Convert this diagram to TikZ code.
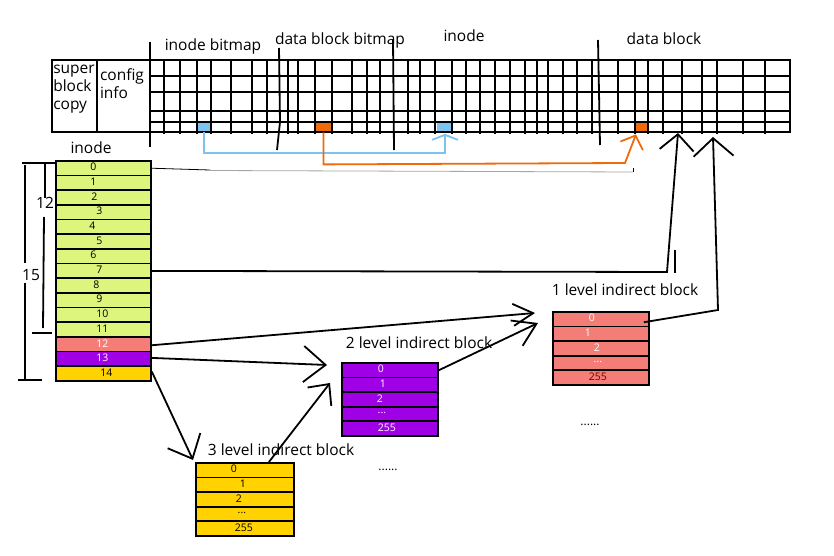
\documentclass[tikz,border=0pt]{standalone}
\usepackage{fontspec}
\setmainfont{Open Sans}
\usetikzlibrary{arrows.meta,calc}
\definecolor{igreen}{RGB}{221,245,124}
\definecolor{isalmon}{RGB}{245,125,120}
\definecolor{ipurple}{RGB}{160,0,230}
\definecolor{igold}{RGB}{255,210,0}
\definecolor{cblue}{RGB}{125,195,240}
\definecolor{corange}{RGB}{240,105,10}
\definecolor{dred}{RGB}{110,0,0}
\newcommand\mydots{.{}.{}.}
\begin{document}
\begin{tikzpicture}[x=1pt,y=-1pt,line width=1.8pt,
  slot/.style={draw=black,line width=1.8pt,minimum height=14.67pt,inner sep=0pt,anchor=north west},
  slotnum/.style={font=\fontsize{10.5}{10.5}\selectfont,inner sep=0pt},
  lbl/.style={font=\fontsize{15.5}{18}\selectfont,inner sep=0pt},
  cellmark/.style={draw=none,inner sep=0pt,minimum height=9pt}]
\useasboundingbox[fill=white] (0,0) rectangle (834,556);

% ---------- top disk layout ----------
\node[cellmark,fill=cblue,minimum width=14pt] (ibm) at (204,127) {};
\node[cellmark,fill=corange,minimum width=15pt] (dbm) at (323.5,127) {};
\node[cellmark,fill=cblue,minimum width=16pt] (ino) at (445,127) {};
\node[cellmark,fill=corange,minimum width=13pt] (dbk) at (641.5,127) {};

\draw[line width=2pt] (52,60) rectangle (790,132);
\draw[line width=2pt] (97,60) -- (97,132);
\foreach \y in {76,92,111,122} \draw[line width=2pt] (150,\y) -- (790,\y);
\foreach \x in {164,180,197,211,231,252,267,288,298,315,332,352,367,380,408,420,435,452,466,480,495,510,525,537,548,563,577,592,618,635,648,663,682,702,717,743,765}
  \draw[line width=2pt] (\x,60) -- (\x,134);
\draw (150,42) -- (150,147);
\draw (279,48) -- (280,122) -- (277,150);
\draw (393,40) -- (394,150);
\draw (598,40) -- (600,145);

\node[lbl,align=left] (sb) at (74,89) {super\\block\\copy};
\node[lbl,align=left] (ci) at (122,84) {config\\info};
\node[lbl] (tib) at (213,46) {inode bitmap};
\node[lbl] (tdbb) at (340,40) {data block bitmap};
\node[lbl] (tin) at (464,36) {inode};
\node[lbl] (tdb) at (664,39) {data block};

% bitmap connectors
\draw[cblue,-{Straight Barb[length=5pt,width=26pt]}] (ibm.south) -- ++(0,21) -| ($(ino.south)+(0,1.5)$);
\draw[corange,-{Straight Barb[length=11pt,width=24pt]}] (dbm.south) -- ++(0,32) -- (625,163) -- ($(dbk.south)+(-5.5,2)$);

% ---------- inode table ----------
\node[lbl] (inl) at (91,148) {inode};
\foreach \n/\c/\dx/\tc in {0/igreen/-10/black,1/igreen/-10/black,2/igreen/-9/black,3/igreen/-4/black,4/igreen/-11/black,5/igreen/-4/black,6/igreen/-10/black,7/igreen/-4/black,8/igreen/-7/black,9/igreen/-4/black,10/igreen/-1/black,11/igreen/-1/black,12/isalmon/-1/white,13/ipurple/-1/white,14/igold/3/black}
  \node[slot,fill=\c,minimum width=95pt,label={[slotnum,text=\tc,xshift=\dx pt,yshift=1pt]center:\n}] (i\n) at (55,{160+\n*14.667}) {};

% brackets
\draw (22,163) -- (55,163);
\draw (45,163) -- (45,198);
\draw (44,217) -- (43,328);
\draw (32,333) -- (52,333);
\node[lbl] (n12) at (45,203) {12};
\draw (25,165) -- (25,263);
\draw (25,283) -- (25,380);
\draw (18,380) -- (42,380);
\node[lbl] (n15) at (31,275) {15};

% ---------- indirect blocks ----------
\node[lbl,anchor=west] (l1t) at (551,290) {1 level indirect block};
\foreach \k/\t/\dx/\tc in {0/0/-9/white,1/1/-13/white,2/2/-4/white,3/\mydots/-3/white,4/255/-3/dred}
  \node[slot,fill=isalmon,minimum width=96pt,label={[slotnum,text=\tc,xshift=\dx pt,yshift=1pt]center:\t}] (a\k) at (552,{311+\k*14.6}) {};
\node[slotnum,font=\fontsize{12}{12}\selectfont] (dots1) at (590,425) {\mydots\mydots};

\node[lbl,anchor=west] (l2t) at (345,343) {2 level indirect block};
\foreach \k/\t/\dx in {0/0/-9,1/1/-7,2/2/-10,3/\mydots/-8,4/255/-3}
  \node[slot,fill=ipurple,minimum width=96pt,label={[slotnum,text=white,xshift=\dx pt,yshift=1pt]center:\t}] (b\k) at (341,{362+\k*14.6}) {};
\node[slotnum,font=\fontsize{12}{12}\selectfont] (dots2) at (388,470) {\mydots\mydots};

\node[lbl,anchor=west] (l3t) at (207,450) {3 level indirect block};
\foreach \k/\t/\dx in {0/0/-11,1/1/-2,2/2/-6,3/\mydots/-3,4/255/-1}
  \node[slot,fill=igold,minimum width=98pt,label={[slotnum,text=black,xshift=\dx pt,yshift=1pt]center:\t}] (c\k) at (195,{462+\k*14.6}) {};

% ---------- pointers ----------
\coordinate (g0) at (633,172);
\draw[line width=0.8pt] (i0.east) -- (210,170);
\draw[gray!70,line width=0.8pt] (210,170.5) -- (g0);
\draw[line width=0.8pt] (g0) -- (633,168);

\coordinate (d1) at (678,133);
\coordinate (d2) at (713,137);
\draw[-{Straight Barb[length=16pt,width=34pt]}] (i7.east) -- (667,272) -- (d1);
\draw (675,250) -- (675,273);
\draw[-{Straight Barb[length=18pt,width=40pt]}] ($(a0.east)+(-6,3)$) -- (718,310) -- (d2);

\coordinate (t1) at (535,313);
\coordinate (t2) at (538,323);
\coordinate (t3) at (327,365);
\coordinate (t4) at (330,383);
\draw[-{Straight Barb[length=20pt,width=22pt]}] ($(i12.east)+(0,1)$) -- (t1);
\draw[-{Straight Barb[length=22pt,width=28pt]}] (b0.east) -- (t2);
\draw[-{Straight Barb[length=22pt,width=36pt]}] ($(i13.east)+(0,-1)$) -- (t3);
\draw[-{Straight Barb[length=16pt,width=30pt]}] ($(c0.north)+(24,0)$) -- (t4);
\draw[-{Straight Barb[length=20pt,width=36pt]}] ($(i14.east)+(0,-2)$) -- ($(c0.north west)+(-2,-2)$);
\end{tikzpicture}
\end{document}
